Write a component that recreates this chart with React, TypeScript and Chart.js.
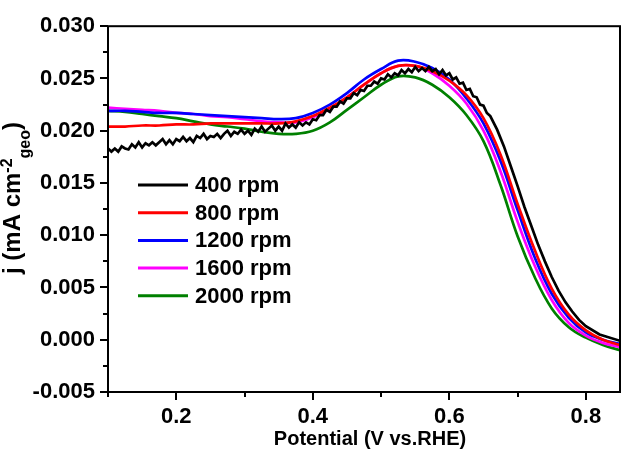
import { useEffect, useRef } from 'react';
import { Chart, registerables } from 'chart.js';

Chart.register(...registerables);

// Potential grid (V vs. RHE) for the smooth curves
const potentials = [
  0.1, 0.125, 0.15, 0.175, 0.2, 0.225, 0.25, 0.275, 0.3, 0.325, 0.35, 0.375, 0.4,
  0.425, 0.45, 0.475, 0.5, 0.525, 0.55, 0.575, 0.6, 0.625, 0.65, 0.675, 0.7,
  0.725, 0.75, 0.775, 0.8, 0.825, 0.85,
];

const j800 = [
  0.0204, 0.0204, 0.0205, 0.0205, 0.0206, 0.0206, 0.0207, 0.0207, 0.0207, 0.0207,
  0.0207, 0.0209, 0.0214, 0.0222, 0.0232, 0.0244, 0.0255, 0.0262, 0.0262, 0.0257,
  0.0248, 0.0234, 0.0212, 0.0177, 0.013, 0.0086, 0.0049, 0.0024, 0.0009, 0.0, -0.0005,
];

const j1200 = [
  0.0219, 0.0219, 0.0218, 0.0217, 0.0217, 0.0216, 0.0215, 0.0214, 0.0213, 0.0212,
  0.0211, 0.0212, 0.0217, 0.0225, 0.0236, 0.0249, 0.0259, 0.0267, 0.0266, 0.026,
  0.0249, 0.0231, 0.0207, 0.0171, 0.0124, 0.0079, 0.0044, 0.0021, 0.0007, 0.0, -0.0004,
];

const j1600 = [
  0.0222, 0.0221, 0.022, 0.0219, 0.0217, 0.0216, 0.0214, 0.0213, 0.0211, 0.0209,
  0.0208, 0.0208, 0.0213, 0.0221, 0.0232, 0.0244, 0.0255, 0.0262, 0.0262, 0.0255,
  0.0243, 0.0226, 0.02, 0.0161, 0.0113, 0.0071, 0.0038, 0.0016, 0.0004, -0.0003, -0.0007,
];

const j2000 = [
  0.0219, 0.0218, 0.0216, 0.0214, 0.0212, 0.0209, 0.0206, 0.0204, 0.0202, 0.0199,
  0.0197, 0.0197, 0.02, 0.0208, 0.022, 0.0232, 0.0244, 0.0252, 0.0251, 0.0244,
  0.0232, 0.0215, 0.019, 0.0148, 0.0099, 0.006, 0.003, 0.0012, 0.0002, -0.0005, -0.001,
];

// 400 rpm curve is noisy: denser potential grid
const potentials400 = [
  0.1, 0.105, 0.11, 0.115, 0.12, 0.125, 0.13, 0.135, 0.14, 0.145,
  0.15, 0.155, 0.16, 0.165, 0.17, 0.175, 0.18, 0.185, 0.19, 0.195,
  0.2, 0.205, 0.21, 0.215, 0.22, 0.225, 0.23, 0.235, 0.24, 0.245,
  0.25, 0.255, 0.26, 0.265, 0.27, 0.275, 0.28, 0.285, 0.29, 0.295,
  0.3, 0.305, 0.31, 0.315, 0.32, 0.325, 0.33, 0.335, 0.34, 0.345,
  0.35, 0.355, 0.36, 0.365, 0.37, 0.375, 0.38, 0.385, 0.39, 0.395,
  0.4, 0.405, 0.41, 0.415, 0.42, 0.425, 0.43, 0.435, 0.44, 0.445,
  0.45, 0.455, 0.46, 0.465, 0.47, 0.475, 0.48, 0.485, 0.49, 0.495,
  0.5, 0.505, 0.51, 0.515, 0.52, 0.525, 0.53, 0.535, 0.54, 0.545,
  0.55, 0.555, 0.56, 0.565, 0.57, 0.575, 0.58, 0.585, 0.59, 0.595,
  0.6, 0.605, 0.61, 0.615, 0.62, 0.625, 0.63, 0.635, 0.64, 0.645,
  0.65, 0.655, 0.66, 0.67, 0.68, 0.69, 0.7, 0.71, 0.72, 0.73,
  0.74, 0.75, 0.76, 0.77, 0.78, 0.79, 0.8, 0.82, 0.85,
];

const j400 = [
  0.0183, 0.018, 0.0183, 0.018, 0.0185, 0.0183, 0.0182, 0.0187, 0.0184, 0.0189,
  0.0184, 0.0188, 0.0186, 0.0189, 0.0186, 0.0189, 0.0192, 0.0187, 0.0191, 0.0187,
  0.0192, 0.019, 0.0194, 0.019, 0.0193, 0.0189, 0.0195, 0.0193, 0.0197, 0.0192,
  0.0195, 0.0194, 0.0197, 0.0193, 0.0197, 0.02, 0.0195, 0.0199, 0.0197, 0.0201,
  0.0197, 0.02, 0.0196, 0.0202, 0.0199, 0.0204, 0.0199, 0.0202, 0.0205, 0.02,
  0.0204, 0.02, 0.0207, 0.0203, 0.0206, 0.0203, 0.0208, 0.0205, 0.0208, 0.0206,
  0.0211, 0.021, 0.0215, 0.0215, 0.022, 0.0218, 0.0223, 0.0223, 0.0228, 0.0226,
  0.0231, 0.0231, 0.0236, 0.0234, 0.0239, 0.0238, 0.0243, 0.0243, 0.0247, 0.0245,
  0.025, 0.0249, 0.0254, 0.0251, 0.0255, 0.0253, 0.0258, 0.0255, 0.0259, 0.0256,
  0.0261, 0.0257, 0.026, 0.0257, 0.0261, 0.0257, 0.0259, 0.0254, 0.0258, 0.0253,
  0.0255, 0.0249, 0.0251, 0.0245, 0.0246, 0.0239, 0.024, 0.0233, 0.0232, 0.0225,
  0.0224, 0.0217, 0.0214, 0.0201, 0.0185, 0.0166, 0.0147, 0.0127, 0.0109, 0.0091,
  0.0075, 0.006, 0.0047, 0.0036, 0.0027, 0.0019, 0.0013, 0.0005, -0.0001,
];

const seriesLabels = ['400 rpm', '800 rpm', '1200 rpm', '1600 rpm', '2000 rpm'];
const seriesColors = ['#000000', '#ff0000', '#0000ff', '#ff00ff', '#008000'];

const xTicks = [0.2, 0.4, 0.6, 0.8];
const xMinorTicks = [0.1, 0.3, 0.5, 0.7];
const yTicks = [-0.005, 0, 0.005, 0.01, 0.015, 0.02, 0.025, 0.03];
const yMinorTicks = [-0.0025, 0.0025, 0.0075, 0.0125, 0.0175, 0.0225, 0.0275];

const FONT = '"Liberation Sans", Arial, Helvetica, sans-serif';

const framePlugin = {
  id: 'frameAndLabels',
  afterDraw(chart: any) {
    const { ctx, chartArea: a, scales } = chart;
    const xs = scales.x;
    const ys = scales.y;
    ctx.save();
    ctx.strokeStyle = '#000';
    ctx.lineWidth = 2;
    ctx.strokeRect(a.left, a.top, a.right - a.left, a.bottom - a.top);
    ctx.beginPath();
    xTicks.forEach((v) => {
      const x = Math.round(xs.getPixelForValue(v));
      ctx.moveTo(x, a.bottom);
      ctx.lineTo(x, a.bottom + 8);
    });
    xMinorTicks.forEach((v) => {
      const x = Math.round(xs.getPixelForValue(v));
      ctx.moveTo(x, a.bottom);
      ctx.lineTo(x, a.bottom + 5);
    });
    yTicks.forEach((v) => {
      const y = Math.round(ys.getPixelForValue(v));
      ctx.moveTo(a.left, y);
      ctx.lineTo(a.left - 8, y);
    });
    yMinorTicks.forEach((v) => {
      const y = Math.round(ys.getPixelForValue(v));
      ctx.moveTo(a.left, y);
      ctx.lineTo(a.left - 5, y);
    });
    ctx.stroke();

    // legend
    const lx = 138;
    const ly = 185;
    const rowH = 27.7;
    ctx.lineWidth = 3;
    ctx.font = `bold 22px ${FONT}`;
    ctx.textBaseline = 'middle';
    ctx.textAlign = 'left';
    ctx.fillStyle = '#000';
    seriesLabels.forEach((label, i) => {
      const y = ly + i * rowH;
      ctx.strokeStyle = seriesColors[i];
      ctx.beginPath();
      ctx.moveTo(lx, y);
      ctx.lineTo(lx + 50, y);
      ctx.stroke();
      ctx.fillText(label, lx + 57, y + 1);
    });

    // x title
    ctx.font = `bold 20px ${FONT}`;
    ctx.textAlign = 'center';
    ctx.textBaseline = 'middle';
    ctx.fillText('Potential (V vs.RHE)', (a.left + a.right) / 2 + 6, 439);

    // y title with super/subscript
    const main = `bold 24px ${FONT}`;
    const small = `bold 16px ${FONT}`;
    const pieces = [
      { t: 'j (mA cm', f: main, dy: 0 },
      { t: '-2', f: small, dy: -8 },
      { t: 'geo', f: small, dy: 10 },
      { t: ')', f: main, dy: 0 },
    ];
    let total = 0;
    const widths = pieces.map((p) => {
      ctx.font = p.f;
      const w = ctx.measureText(p.t).width;
      total += w;
      return w;
    });
    const cy = 198;
    ctx.translate(20, cy + total / 2);
    ctx.rotate(-Math.PI / 2);
    ctx.textAlign = 'left';
    ctx.textBaseline = 'alphabetic';
    let u = 0;
    pieces.forEach((p, i) => {
      ctx.font = p.f;
      ctx.fillText(p.t, u, p.dy);
      u += widths[i];
    });
    ctx.restore();
  },
};

export default function App() {
  const ref = useRef<HTMLCanvasElement | null>(null);

  useEffect(() => {
    document.body.style.margin = '0';
    const canvas = ref.current;
    if (!canvas) return;
    const seriesY = [j400, j800, j1200, j1600, j2000];
    const datasets = seriesY.map((ys, i) => {
      const xsArr = i === 0 ? potentials400 : potentials;
      return {
        label: seriesLabels[i],
        data: xsArr.map((x, k) => ({ x, y: ys[k] })),
        borderColor: seriesColors[i],
        backgroundColor: seriesColors[i],
        borderWidth: 2.7,
        pointRadius: 0,
        fill: false,
        tension: i === 0 ? 0 : 0.4,
      };
    });
    const tickFont = { family: FONT, size: 22, weight: 'bold' as const };
    const chart = new Chart(canvas, {
      type: 'line',
      data: { datasets: datasets as any },
      options: {
        animation: false,
        responsive: false,
        devicePixelRatio: 1,
        layout: { padding: { left: 0, right: 5, top: 13, bottom: 0 } },
        plugins: { legend: { display: false }, tooltip: { enabled: false } },
        scales: {
          x: {
            type: 'linear',
            min: 0.1,
            max: 0.85,
            grid: { display: false, drawTicks: false },
            border: { display: false },
            ticks: {
              font: tickFont,
              color: '#000',
              padding: 12,
              maxRotation: 0,
              autoSkip: false,
              callback: (v: any) => Number(v).toFixed(1),
            },
            afterBuildTicks: (s: any) => {
              s.ticks = xTicks.map((value) => ({ value }));
            },
            afterFit: (s: any) => {
              s.height = 61;
            },
          },
          y: {
            type: 'linear',
            min: -0.005,
            max: 0.03,
            grid: { display: false, drawTicks: false },
            border: { display: false },
            ticks: {
              font: tickFont,
              color: '#000',
              padding: 13,
              autoSkip: false,
              callback: (v: any) => Number(v).toFixed(3),
            },
            afterBuildTicks: (s: any) => {
              s.ticks = yTicks.map((value) => ({ value }));
            },
            afterFit: (s: any) => {
              s.width = 108;
            },
          },
        },
      },
      plugins: [framePlugin],
    });
    return () => chart.destroy();
  }, []);

  return (
    <div style={{ width: 625, height: 453, background: '#fff' }}>
      <canvas ref={ref} width={625} height={453} style={{ display: 'block' }} />
    </div>
  );
}
